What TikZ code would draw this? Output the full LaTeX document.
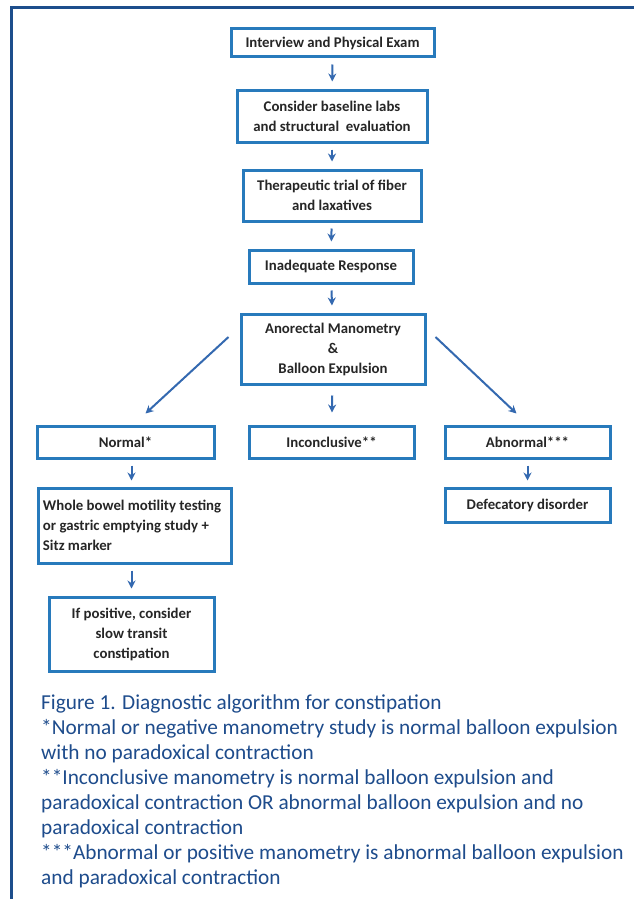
\documentclass[tikz,border=0pt]{standalone}
\usepackage{fontspec}
\setmainfont{Carlito}
\usetikzlibrary{arrows.meta,calc}
\definecolor{framec}{RGB}{29,78,140}
\definecolor{boxc}{RGB}{40,122,188}
\definecolor{arrc}{RGB}{52,105,176}
\definecolor{txtc}{RGB}{38,38,38}
\definecolor{capc}{RGB}{30,76,140}
\tikzset{
  fbox/.style={draw=boxc, line width=3pt, fill=white, text=txtc, align=center,
    font=\bfseries\fontsize{14.8}{20}\selectfont, inner sep=2pt},
  arr/.style={draw=arrc, line width=2pt, -{Stealth[length=8pt,width=8pt]}},
  caption/.style={anchor=base west, text=capc, font=\fontsize{21.3}{25}\selectfont, inner sep=0pt}
}
\begin{document}
\begin{tikzpicture}[x=1pt,y=-1pt]
\useasboundingbox (0,0) rectangle (634,899);
\fill[white] (0,0) rectangle (634,899);
% frame
\draw[framec, line width=3pt] (11,899) -- (11,7.5) -- (634,7.5);
% boxes
\node[fbox, minimum width=203, minimum height=28] (b1) at (332.5,43) {Interview and Physical Exam};
\node[fbox, minimum width=190, minimum height=52] (b2) at (332,116) {Consider baseline labs\\and structural\ \ evaluation};
\node[fbox, minimum width=178, minimum height=51] (b3) at (332,195.5) {Therapeutic trial of fiber\\and laxatives};
\node[fbox, minimum width=164, minimum height=33] (b4) at (331,266.5) {Inadequate Response};
\node[fbox, minimum width=184, minimum height=70] (b5) at (333,349) {Anorectal Manometry\\\&\\Balloon Expulsion};
\node[fbox, minimum width=177, minimum height=32] (nrm) at (125.5,442) {Normal*};
\node[fbox, minimum width=165, minimum height=32] (inc) at (331.5,442) {Inconclusive**};
\node[fbox, minimum width=165, minimum height=32] (abn) at (527.5,442) {Abnormal***};
\node[fbox, minimum width=193, minimum height=75, align=left] (wb) at (134.5,525.5) {Whole bowel motility testing\\or gastric emptying study +\\Sitz marker\hspace*{114pt}};
\node[fbox, minimum width=165, minimum height=34] (def) at (527.5,505) {Defecatory disorder};
\node[fbox, minimum width=165, minimum height=74] (pos) at (131.5,634) {If positive, consider\\slow transit\\constipation};
% arrows
\draw[arr, shorten <=6pt, shorten >=7pt] (b1) -- (b2);
\draw[arr, shorten <=6pt, shorten >=7pt] (b2) -- (b3);
\draw[arr, shorten <=6pt, shorten >=7pt] (b3) -- (b4);
\draw[arr, shorten <=6pt, shorten >=7pt] (b4) -- (b5);
\draw[arr, shorten <=10pt, shorten >=12pt] (b5) -- (inc);
\draw[arr] ($(b5.west)+(-11,-12)$) -- ($(nrm.north)+(20,-11)$);
\draw[arr] ($(b5.east)+(9,-12)$) -- ($(abn.north)+(-11,-11)$);
\draw[arr, shorten <=6pt, shorten >=6pt] (nrm.south -| pos.north) -- (pos.north |- wb.north);
\draw[arr, shorten <=6pt, shorten >=6pt] (abn) -- (def);
\draw[arr, shorten <=6pt, shorten >=7pt] (wb.south -| pos.north) -- (pos.north);
% caption
\node[caption] (c1) at (41,709) {Figure 1. Diagnostic algorithm for constipation};
\node[caption] (c2) at (41,734) {*Normal or negative manometry study is normal balloon expulsion};
\node[caption] (c3) at (41,759) {with no paradoxical contraction};
\node[caption] (c4) at (41,784) {**Inconclusive manometry is normal balloon expulsion and};
\node[caption] (c5) at (41,809) {paradoxical contraction OR abnormal balloon expulsion and no};
\node[caption] (c6) at (41,834) {paradoxical contraction};
\node[caption] (c7) at (41,859) {***Abnormal or positive manometry is abnormal balloon expulsion};
\node[caption] (c8) at (41,884) {and paradoxical contraction};
\end{tikzpicture}
\end{document}
